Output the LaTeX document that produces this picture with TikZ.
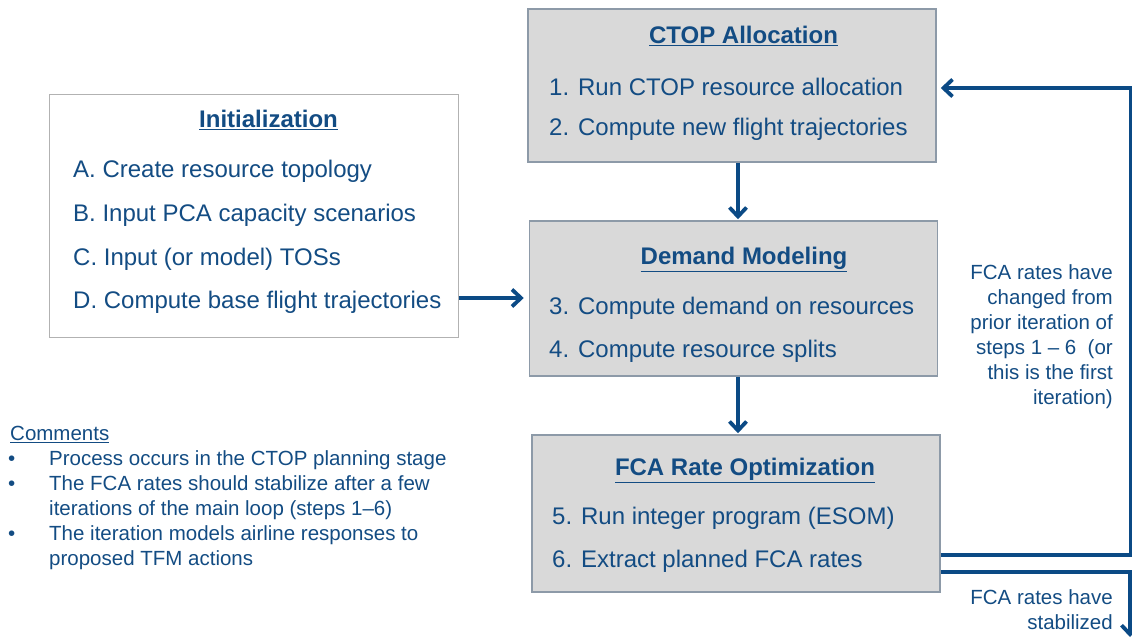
\documentclass[tikz,border=0pt]{standalone}
\usepackage{fontspec}
\setmainfont{Liberation Sans}
\usetikzlibrary{arrows.meta,positioning,calc}

\definecolor{flowblue}{HTML}{0B4A85}
\definecolor{txtblue}{HTML}{134C83}
\definecolor{boxgray}{HTML}{D9D9D9}
\definecolor{edgegray}{HTML}{8D9AA8}

\tikzset{
  stagebox/.style={draw=edgegray, fill=boxgray, line width=1.5pt, minimum width=408pt, inner sep=0pt},
  initbox/.style={draw=gray!60, fill=white, line width=1pt, inner sep=0pt},
  heading/.style={font=\fontsize{24}{28}\selectfont\bfseries, text=txtblue, anchor=base, inner sep=0pt},
  item/.style={font=\fontsize{24}{28}\selectfont, text=txtblue, anchor=base west, inner sep=0pt},
  note/.style={font=\fontsize{20.5}{25}\selectfont, text=txtblue, inner sep=0pt},
  flow/.style={draw=flowblue, line width=3.8pt, -{Straight Barb[length=9pt, width=17pt]}}
}

\begin{document}
\begin{tikzpicture}[x=1pt, y=-1pt]
\useasboundingbox (0,0) rectangle (1132,639);

% the four boxes
\node[stagebox, minimum height=153pt] (ctop) at (732,85.5) {};
\node[initbox, minimum width=409pt, minimum height=242pt] (init) at (253.5,216) {};
\node[stagebox, minimum height=155pt] (demand) at (733.5,298.5) {};
\node[stagebox, minimum height=157pt] (fca) at (736,513.5) {};

% CTOP allocation
\node[heading] (ctoptitle) at (743.5,43.5) {\underline{CTOP Allocation}};
\node[item] (step1) at (549,95.5) {1. Run CTOP resource allocation};
\node[item] (step2) at (549,135.5) {2. Compute new flight trajectories};

% initialization
\node[heading] (inittitle) at (268.5,127.5) {\underline{Initialization}};
\node[item] (stepA) at (73,177.5) {A. Create resource topology};
\node[item] (stepB) at (73,221.5) {B. Input PCA capacity scenarios};
\node[item] (stepC) at (73,265.5) {C. Input (or model) TOSs};
\node[item] (stepD) at (73,308.5) {D. Compute base flight trajectories};

% demand modeling
\node[heading] (demtitle) at (744,264.5) {\underline{Demand Modeling}};
\node[item] (step3) at (549,314.5) {3. Compute demand on resources};
\node[item] (step4) at (549,357.5) {4. Compute resource splits};

% FCA rate optimization
\node[heading] (fcatitle) at (745,475.5) {\underline{FCA Rate Optimization}};
\node[item] (step5) at (552,524.5) {5. Run integer program (ESOM)};
\node[item] (step6) at (552,567.5) {6. Extract planned FCA rates};

% connectors
\coordinate (dmid) at (458,298);
\coordinate (backturn) at (1131,555);
\coordinate (backtop) at (1131,88);
\coordinate (exitturn) at (1130,572);
\coordinate (exitend) at (1130,639);

\draw[flow, shorten >=1pt] ([xshift=6pt]ctop.south) -- ([xshift=6pt]ctop.south |- demand.north);
\draw[flow, shorten >=5pt] (init.east |- dmid) -- (demand.west |- dmid);
\draw[flow, shorten >=1pt] ([xshift=4.5pt]demand.south) -- ([xshift=4.5pt]demand.south |- fca.north);
\draw[flow, shorten >=4pt] (fca.east |- backturn) -- (backturn) -- (backtop) -- (ctop.east |- backtop);
\draw[flow, shorten >=2pt] (fca.east |- exitturn) -- (exitturn) -- (exitend);

% loop labels
\node[note, align=right, anchor=north east] (changed) at (1113,264.5)
  {FCA rates have\\changed from\\prior iteration of\\steps 1 – 6~~(or\\this is the first\\iteration)};
\node[note, align=right, anchor=north east] (stable) at (1113,589.5)
  {FCA rates have\\stabilized};

% comments
\node[note, anchor=base west] (comments) at (10,440.5) {\underline{Comments}};
\node[note, anchor=base west] (bul1) at (8,465.5) {•};
\node[note, anchor=base west] (bul2) at (8,490.5) {•};
\node[note, anchor=base west] (bul3) at (8,540.5) {•};
\node[note, anchor=base west] (com1) at (49,465.5) {Process occurs in the CTOP planning stage};
\node[note, anchor=base west] (com2a) at (49,490.5) {The FCA rates should stabilize after a few};
\node[note, anchor=base west] (com2b) at (49,515.5) {iterations of the main loop (steps 1–6)};
\node[note, anchor=base west] (com3a) at (49,540.5) {The iteration models airline responses to};
\node[note, anchor=base west] (com3b) at (49,565.5) {proposed TFM actions};

\end{tikzpicture}
\end{document}
